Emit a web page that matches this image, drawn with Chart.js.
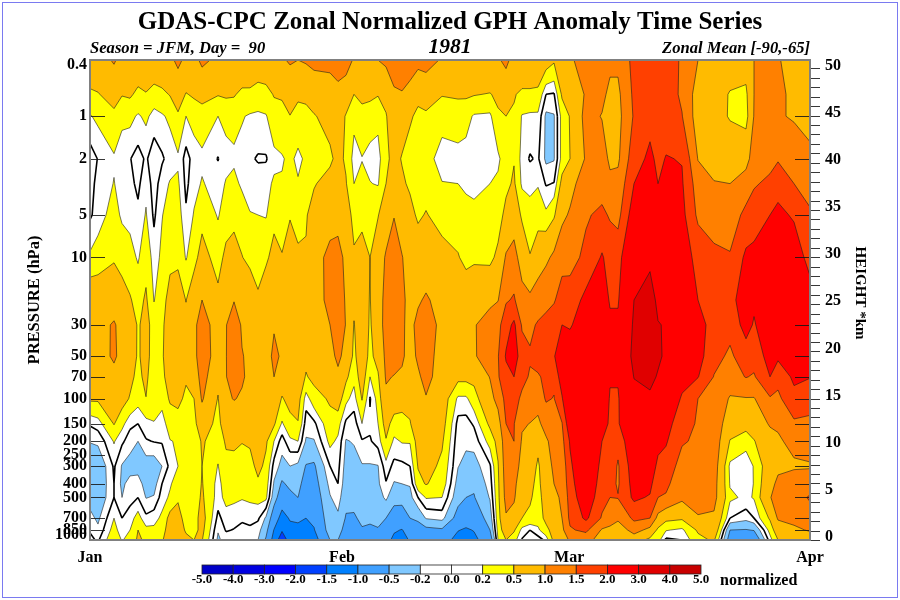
<!DOCTYPE html>
<html><head><meta charset="utf-8"><style>html,body{margin:0;padding:0;background:#fff}canvas{display:block}</style>
<script src="https://cdn.jsdelivr.net/npm/chart.js@4"></script></head><body>
<canvas id="c" width="900" height="600"></canvas>
<script>
const chartTitle='GDAS-CPC Zonal Normalized GPH Anomaly Time Series';
const infoLeft='Season = JFM, Day =  90', infoCenter='1981', infoRight='Zonal Mean [-90,-65]';
const levels=[1000,850,700,500,400,300,200,150,100,70,50,30,20,10,5,3,2,1,0.7,0.4];
const pressureLabels=[0.4,1,2,5,10,30,50,70,100,150,200,250,300,400,500,700,850,1000];
const innerTicks=[1,2,5,10,30,50,70,100,150,200,250,300,400,500,700,850,1000];
const heightLabels=[0,5,10,15,20,25,30,35,40,45,50];
const monthLabels=['Jan','Feb','Mar','Apr'], monthPos=[0,31.5,59.9,90];
const thresholds=[-5,-4,-3,-2,-1.5,-1,-0.5,-0.2,0,0.2,0.5,1,1.5,2,3,4,5];
const thresholdLabels=['-5.0','-4.0','-3.0','-2.0','-1.5','-1.0','-0.5','-0.2','0.0','0.2','0.5','1.0','1.5','2.0','3.0','4.0','5.0'];
const bandColors=['rgb(0,0,200)','rgb(0,0,225)','rgb(0,0,255)','rgb(0,64,255)','rgb(0,128,255)','rgb(64,160,255)','rgb(128,200,255)','#fff','#fff','rgb(255,255,0)','rgb(255,187,0)','rgb(255,128,0)','rgb(255,64,0)','rgb(255,0,0)','rgb(224,0,0)','rgb(200,0,0)'];
// day index of every column below; each column runs from 1000 hPa up to 0.4 hPa
const days=[0,1,3,4,5,6,7,8,9,10,11,12,13,14,16,17,18,19,20,21,22,23,24,25,26,27,28,30,31,32,33,34,35,36,37,38,39,40,41,42,44,46,47,48,50,51,52,53,54,55,56,57,58,59,60,62,64,65,66,68,70,71,72,74,76,78,80,82,83,85,86,88,90];
const d0=[.05,-.02,-.13,-.3,-.35,-.35,-.19,.03,.55,.75,.8,.85,.8,.24,-.03,-.06,-.1,.18,.43,.85];
const d1=[-.03,-.15,-.25,-.4,-.42,-.42,-.15,.1,.55,.8,.85,.9,.75,.33,.08,.05,.01,.26,.48,.8];
const d3=[.4,.3,.2,0,0,.03,.22,.52,.75,.9,1.05,1.03,.85,.45,.32,.21,.17,.42,.65,1.05];
const d4=[.18,.07,0,-.2,-.25,-.22,.04,.28,.65,.85,.9,.9,.62,.4,.15,.1,.08,.26,.52,.85];
const d5=[.3,.2,.1,-.07,-.12,-.3,-.1,.05,.47,.6,.75,.8,.53,.3,.12,.06,.01,.27,.55,.85];
const d6=[.55,.5,.3,0,-.1,-.3,-.2,0,.3,.4,.45,.45,.38,.17,.05,-.05,-.08,.17,.42,.78];
const d7=[.45,.27,.05,-.21,-.3,-.33,-.02,.12,.49,.6,.65,.65,.55,.38,.22,.14,.03,.25,.48,.8];
const d8=[.35,.25,.12,-.18,-.3,-.35,.01,.19,.3,.2,.3,.32,.19,.1,-.04,-.1,-.12,.12,.35,.85];
const d9=[.45,.35,.25,.1,0,-.2,.02,.12,.27,.4,.45,.42,.35,.25,.19,.1,-.03,.17,.42,.85];
const d10=[.8,.7,.62,.24,.17,.06,.19,.3,.55,.7,.75,.75,.65,.4,.3,.22,.08,.25,.52,.9];
const d11=[.8,.72,.65,.45,.33,.2,.22,.35,.6,.75,.8,.8,.7,.42,.32,.24,.16,.45,.7,1.1];
const d12=[.6,.45,.35,.3,.26,.2,.2,.35,.42,.55,.65,.6,.49,.18,.03,-.05,-.08,.2,.48,.9];
const d13=[.5,.4,.35,.33,.3,.25,.22,.42,.5,.7,.85,.9,.75,.38,.22,.12,.08,.3,.55,.85];
const d14=[.52,.6,.65,.55,.52,.5,.55,.7,1.05,1.2,1.3,1.2,1.0,.65,.38,.22,.15,.35,.62,1.1];
const d16=[-.25,-.18,-.06,.1,.12,.19,.3,.4,.48,.6,.75,.8,.6,.35,.18,.1,-.01,.2,.52,.9];
const d17=[-.1,.02,.1,.28,.33,.4,.55,.72,.92,.98,.98,.98,.8,.6,.32,.22,.12,.27,.55,.95];
const d18=[-.05,-.01,.08,.25,.33,.42,.55,.72,1.02,1.25,1.35,1.25,.98,.62,.42,.28,.15,.3,.53,.92];
const d19=[-.1,-.05,.03,.22,.3,.4,.51,.7,.95,1.05,1.02,.95,.8,.51,.36,.15,.12,.22,.42,.85];
const d20=[-.15,-.03,.05,.25,.3,.38,.55,.7,.85,.9,.92,.85,.72,.42,.21,.12,.03,.17,.43,.8];
const d21=[-.2,-.12,.04,.28,.44,.6,.7,.8,.9,.95,.95,.85,.55,.35,.2,.1,-.02,.15,.38,.72];
const d22=[-.55,-.38,-.24,.26,.34,.42,.55,.75,.92,.95,.9,.85,.7,.45,.18,.12,-.02,.18,.4,.75];
const d23=[-1.2,-1.02,-.7,-.37,-.23,-.08,.2,.55,.8,1.0,1.05,.98,.8,.6,.42,.24,.13,.38,.52,.85];
const d24=[-1.8,-1.45,-1.2,-.7,-.55,-.28,-.1,.17,.47,.72,.97,.75,.7,.52,.35,.22,.18,.37,.55,.95];
const d25=[-1.3,-1.15,-.95,-.6,-.42,-.2,.15,.4,.62,.75,.82,.8,.75,.65,.48,.3,.25,.49,.7,1.05];
const d26=[-1.35,-1.15,-.9,-.5,-.4,-.26,.2,.48,.65,.75,.8,.82,.75,.55,.4,.22,.15,.35,.58,1.0];
const d27=[-1.4,-1.2,-1.0,-.75,-.65,-.52,-.23,-.1,.09,.47,.6,.75,.65,.52,.48,.32,.24,.38,.6,1.05];
const d28=[-1.2,-1.03,-.9,-.72,-.65,-.55,-.22,-.05,.35,.6,.7,.8,.75,.85,.6,.48,.38,.48,.65,1.15];
const d30=[-.5,-.32,-.27,-.22,-.13,0,.27,.38,.55,.7,.85,1.0,1.15,1.1,.85,.6,.45,.6,.75,1.15];
const d31=[-.5,-.35,-.25,-.1,0,.06,.15,.3,.7,.9,1.1,1.25,1.25,1.15,.85,.7,.58,.7,.85,1.25];
const d32=[-.8,-.65,-.53,-.4,-.35,-.3,-.22,-.05,.27,.58,.85,.98,.95,.9,.7,.52,.46,.47,.75,1.2];
const d33=[-.7,-.63,-.53,-.42,-.36,-.3,-.18,-.1,.1,.28,.42,.48,.6,.55,.38,.2,.1,.28,.5,.95];
const d34=[-.55,-.52,-.45,-.38,-.32,-.22,-.02,.2,.52,.7,.75,.8,.7,.62,.42,.28,.19,.4,.58,.9];
const d35=[-.6,-.55,-.45,-.35,-.3,-.22,-.02,.04,-.02,.2,.4,.45,.48,.5,.38,.21,.12,.33,.58,.9];
const d36=[-.6,-.52,-.43,-.32,-.24,-.21,.08,.2,.3,.45,.65,.8,.85,.75,.48,.18,.1,.28,.52,1.0];
const d37=[-.85,-.65,-.5,-.15,-.02,.12,.47,.65,.9,1.05,1.1,1.15,1.1,1.05,.75,.5,.43,.48,.6,1.1];
const d38=[-1.1,-.95,-.65,-.4,-.22,-.06,.15,.35,.75,.98,1.2,1.3,1.35,1.25,.98,.72,.6,.7,.9,1.35];
const d39=[-1.2,-1.02,-.7,-.38,-.2,-.05,.22,.4,.62,.95,1.05,1.05,1.1,1.02,.75,.55,.48,.65,.95,1.45];
const d40=[-.95,-.8,-.5,-.28,-.18,0,.22,.48,.6,.75,.88,.9,.85,.8,.6,.45,.35,.55,.8,1.3];
const d41=[-.85,-.7,-.42,0,.4,.52,.65,.72,.8,.95,1.05,1.1,.95,.7,.45,.35,.25,.42,.6,1.15];
const d42=[-.9,-.6,-.18,.22,.52,.65,.72,.78,.98,1.1,1.15,1.15,1.05,.75,.52,.38,.3,.45,.65,1.2];
const d44=[-.8,-.55,-.12,.2,.36,.42,.55,.65,.72,.85,.85,.92,.85,.62,.38,.21,.1,.3,.52,.95];
const d46=[-1.15,-.98,-.65,-.38,-.3,-.19,-.13,-.07,.15,.6,.72,.75,.65,.52,.35,.2,.13,.32,.55,.95];
const d47=[-1.25,-1.05,-.8,-.5,-.42,-.28,-.15,-.08,.15,.6,.75,.78,.7,.42,.3,.15,.1,.3,.55,1.0];
const d48=[-1.1,-.98,-.75,-.52,-.45,-.3,-.12,.03,.36,.6,.95,.95,.75,.45,.25,.15,.1,.17,.52,1.0];
const d50=[-.75,-.5,-.35,-.18,-.1,-.03,.3,.58,.85,1.02,1.25,1.3,.85,.42,.3,.2,.05,.15,.48,.95];
const d51=[.2,.28,.35,.4,.42,.47,.62,.8,1.15,1.45,1.47,1.35,.98,.58,.35,.25,.15,.45,.58,.95];
const d52=[.5,.75,.95,1.15,1.2,1.25,1.3,1.5,1.65,1.85,2.05,1.8,1.45,1.05,.6,.42,.35,.5,.7,1.1];
const d53=[.3,.55,.85,1.05,1.1,1.15,1.5,1.52,1.7,2.0,2.3,2.1,1.55,1.2,.72,.55,.48,.47,.52,.85];
const d54=[-.02,.12,.5,.65,.75,.9,.95,1.05,1.4,1.65,1.7,1.45,1.2,.75,.45,.15,.1,.18,.45,.75];
const d55=[-.2,0,.42,.55,.6,.7,.85,.99,1.3,1.45,1.55,1.4,1.1,.52,.3,.13,-.02,.15,.45,.75];
const d56=[-.1,.15,.32,.35,.4,.45,.6,.9,1.2,1.45,1.7,1.55,1.25,.75,.35,.18,.03,.15,.42,.8];
const d57=[.05,.4,.6,.7,.75,.75,.92,1.2,1.55,1.6,1.75,1.6,1.4,.9,.25,-.02,-.25,-.25,0,.7];
const d58=[.6,.65,.75,.92,1.0,1.1,1.2,1.3,1.48,1.6,1.95,1.8,1.45,1.1,.45,.01,-.22,-.22,-.02,.55];
const d59=[.8,.88,1.0,1.05,1.1,1.15,1.35,1.48,1.95,2.3,2.5,2.0,1.75,1.3,.9,.62,.3,.3,.55,.9];
const d60=[1.05,1.45,1.6,1.7,1.8,1.9,2.05,2.4,2.75,2.6,2.3,1.95,1.7,1.35,1.05,.85,.5,.52,.65,.95];
const d62=[1.2,1.6,2.1,2.4,2.5,2.6,2.7,2.7,2.6,2.5,2.5,2.3,2.15,1.6,1.45,1.25,1.05,1.15,1.05,1.15];
const d64=[.75,.95,1.45,1.65,1.75,1.85,2.0,2.15,2.5,2.7,2.8,2.6,2.3,2.05,1.6,1.3,1.2,.98,1.1,1.3];
const d65=[.65,.9,1.2,1.5,1.65,1.8,1.9,1.95,1.95,2.05,2.2,2.1,1.95,1.8,1.45,1.1,.92,.85,.9,1.1];
const d66=[.55,.7,1.1,1.52,1.45,1.45,1.65,1.95,1.95,2.05,2.2,2.1,1.95,1.8,1.35,1.15,.92,.85,.9,1.1];
const d68=[.7,1.2,1.6,2.1,2.2,2.3,2.5,2.6,2.8,3.02,3.2,3.1,3.0,2.7,2.3,2.0,1.8,1.55,1.6,1.65];
const d70=[.4,.85,1.5,1.95,2.15,2.4,2.6,2.75,2.9,3.15,3.4,3.3,3.2,2.9,2.4,2.2,2.1,1.85,1.85,1.85];
const d71=[.3,.42,.85,1.5,1.6,1.85,2.2,2.5,2.75,2.95,3.1,3.02,2.9,2.6,2.2,2.0,1.9,1.8,1.8,1.8];
const d72=[-.05,.22,.6,1.45,1.6,1.8,2.05,2.2,2.4,2.6,2.9,2.97,2.8,2.5,2.25,2.1,2.02,1.8,1.75,1.7];
const d74=[0,.15,.55,1.1,1.2,1.3,1.55,1.7,1.95,2.15,2.3,2.4,2.35,2.25,2.15,2.05,1.98,1.52,1.42,1.45];
const d76=[.4,.55,.95,1.25,1.3,1.4,1.42,1.45,1.5,2.02,2.2,2.15,2.0,1.85,1.4,1.25,.98,.75,.78,1.0];
const d78=[.55,.82,.92,1.15,1.18,1.25,1.3,1.35,1.42,1.48,1.65,1.85,1.9,1.6,1.3,1.02,.85,.65,.7,.85];
const d80=[-.7,-.5,0,.25,.18,.14,.48,.7,.95,1.3,1.42,1.65,1.8,1.55,1.2,1.0,.75,.47,.47,.75];
const d82=[-.8,-.52,-.12,.15,.1,.05,.3,.65,.97,1.52,1.75,2.2,2.35,2.1,1.65,1.2,.85,.35,.42,.7];
const d83=[-.85,-.48,0,.22,.21,.22,.48,.7,.97,1.45,1.7,1.95,2.1,2.15,1.75,1.45,1.2,1.02,1.0,1.0];
const d85=[.1,.3,.55,.98,.85,.75,.8,1.05,1.45,2.0,2.2,2.4,2.4,2.2,2.0,1.6,1.35,1.02,1.05,1.2];
const d86=[.5,.75,1.05,1.15,1.1,.9,.95,1.05,1.4,1.65,2.1,2.4,2.4,2.3,2.1,1.85,1.45,1.05,1.1,1.02];
const d88=[.6,.9,1.15,1.3,1.2,.95,1.1,1.42,1.85,2.1,2.3,2.5,2.5,2.25,1.95,1.5,1.3,.95,.9,.9];
const d90=[.7,1.05,1.3,1.55,1.3,.95,1.25,1.4,1.7,2.02,2.2,2.3,2.2,1.85,1.55,1.35,1.1,.85,.8,.8];
const columns=[d0,d1,d3,d4,d5,d6,d7,d8,d9,d10,d11,d12,d13,d14,d16,d17,d18,d19,d20,d21,d22,d23,d24,d25,d26,d27,d28,d30,d31,d32,d33,d34,d35,d36,d37,d38,d39,d40,d41,d42,d44,d46,d47,d48,d50,d51,d52,d53,d54,d55,d56,d57,d58,d59,d60,d62,d64,d65,d66,d68,d70,d71,d72,d74,d76,d78,d80,d82,d83,d85,d86,d88,d90];

const SERIF='"Liberation Serif","Times New Roman",serif';

function clipCell(q,t,emit,seg){ // q: [{x,y,v}...]; keeps part with v>=t
  const out=[],cross=[];
  for(let i=0;i<4;i++){
    const a=q[i],b=q[(i+1)%4],ia=a.v>=t,ib=b.v>=t;
    if(ia) out.push(a);
    if(ia!==ib){const f=(t-a.v)/(b.v-a.v),p={x:a.x+f*(b.x-a.x),y:a.y+f*(b.y-a.y)};out.push(p);cross.push(p);}
  }
  if(emit&&out.length>2){emit.moveTo(out[0].x,out[0].y);for(let i=1;i<out.length;i++)emit.lineTo(out[i].x,out[i].y);emit.closePath();}
  if(seg&&cross.length>=2){for(let i=0;i+1<cross.length;i+=2){seg.moveTo(cross[i].x,cross[i].y);seg.lineTo(cross[i+1].x,cross[i+1].y);}}
}
const contourPlugin={id:'contour',
  beforeDatasetsDraw(ch){
    const c=ch.ctx,a=ch.chartArea,X=ch.scales.x,Y=ch.scales.y;
    const xs=days.map(d=>X.getPixelForValue(d)),ys=levels.map(l=>Y.getPixelForValue(l));
    const cell=(i,j)=>[[i,j],[i+1,j],[i+1,j+1],[i,j+1]].map(([m,n])=>({x:xs[m],y:ys[n],v:columns[m][n]}));
    c.save();c.beginPath();c.rect(a.left,a.top,a.width,a.height);c.clip();
    c.fillStyle=bandColors[0];c.fillRect(a.left,a.top,a.width,a.height);
    for(let k=1;k<bandColors.length;k++){
      c.beginPath();
      for(let i=0;i<xs.length-1;i++)for(let j=0;j<ys.length-1;j++)clipCell(cell(i,j),thresholds[k],c,null);
      c.fillStyle=bandColors[k];c.fill();
    }
    for(let k=1;k<thresholds.length-1;k++){
      const t=thresholds[k];
      c.beginPath();
      for(let i=0;i<xs.length-1;i++)for(let j=0;j<ys.length-1;j++)clipCell(cell(i,j),t,null,c);
      c.strokeStyle=t===0?'#000':'rgba(30,30,30,.75)';c.lineWidth=t===0?1.6:.8;c.stroke();
    }
    c.restore();
  },
  afterDraw(ch){
    const c=ch.ctx,a=ch.chartArea,Y=ch.scales.y,R=ch.scales.y2;
    c.save();
    // pressure-level marks inside the frame, both sides
    c.strokeStyle='rgba(20,20,20,.85)';c.lineWidth=1;c.beginPath();
    innerTicks.forEach(p=>{const y=Math.round(Y.getPixelForValue(p))+.5;c.moveTo(a.left,y);c.lineTo(a.left+15,y);c.moveTo(a.right-15,y);c.lineTo(a.right,y);});
    for(let h=0;h<=50;h++){const y=Math.round(R.getPixelForValue(h))+.5;c.moveTo(a.right,y);c.lineTo(a.right+10,y);}
    c.stroke();
    c.strokeStyle='#808080';c.lineWidth=2;c.strokeRect(a.left,a.top,a.width,a.height);
    c.strokeStyle='#7a7af0';c.lineWidth=1;c.strokeRect(2.5,2.5,895,595);
    c.fillStyle='#000';c.textBaseline='middle';
    c.textAlign='center';c.font='bold 25px '+SERIF;c.fillText(chartTitle,450,23);
    c.font='italic bold 21.5px '+SERIF;c.fillText(infoCenter,450,47);
    c.font='italic bold 16.6px '+SERIF;
    c.textAlign='left';c.fillText(infoLeft,90,49);
    c.textAlign='right';c.fillText(infoRight,810,49);
    // colour key
    const x0=202,w=(701-202)/bandColors.length,y0=565,h=9;
    bandColors.forEach((col,i)=>{c.fillStyle=col;c.fillRect(x0+i*w,y0,w,h);c.strokeStyle='#222';c.lineWidth=.8;c.strokeRect(x0+i*w,y0,w,h);});
    c.fillStyle='#000';c.textAlign='center';c.font='bold 13px '+SERIF;
    thresholdLabels.forEach((s,i)=>c.fillText(s,x0+i*w,580));
    c.textAlign='left';c.font='bold 16px '+SERIF;c.fillText('normalized',720,581);
    // right axis name
    c.save();c.translate(860,293);c.rotate(Math.PI/2);c.textAlign='center';c.font='bold 15px '+SERIF;c.fillText('HEIGHT *km',0,0);c.restore();
    c.restore();
  }
};
const points=[];
days.forEach((d,i)=>levels.forEach((l,j)=>points.push({x:d,y:l,v:columns[i][j]})));
new Chart(document.getElementById('c'),{
  type:'scatter',
  data:{datasets:[{label:'Normalized GPH anomaly',data:points,pointRadius:0,showLine:false,yAxisID:'y'}]},
  plugins:[contourPlugin],
  options:{
    responsive:false,animation:false,
    layout:{padding:{top:60,left:0,right:0,bottom:0}},
    plugins:{legend:{display:false},tooltip:{enabled:false}},
    scales:{
      x:{type:'linear',min:0,max:90,grid:{display:false,drawTicks:false},border:{display:false},
        afterBuildTicks(s){s.ticks=monthPos.map(v=>({value:v}));},
        afterFit(s){s.height=60;},
        ticks:{autoSkip:false,maxRotation:0,padding:8,color:'#000',font:{family:SERIF,weight:'bold',size:16},callback:(v,i)=>monthLabels[i]}},
      y:{type:'logarithmic',position:'left',reverse:true,min:.4,max:1000,grid:{display:false,drawTicks:false},border:{display:false},
        afterBuildTicks(s){s.ticks=pressureLabels.map(p=>({value:p===.4?.43:p===1000?925:p}));},
        afterFit(s){s.width=90;},
        title:{display:true,text:'PRESSURE (hPa)',color:'#000',font:{family:SERIF,weight:'bold',size:16.5},padding:{top:25,bottom:0}},
        ticks:{autoSkip:false,padding:3,color:'#000',font:{family:SERIF,weight:'bold',size:16},callback:(v,i)=>String(pressureLabels[i])}},
      y2:{type:'linear',position:'right',min:0,max:50.9,grid:{display:false,drawTicks:false},border:{display:false},
        afterBuildTicks(s){s.ticks=heightLabels.map(v=>({value:v}));},
        afterFit(s){s.width=90;},
        ticks:{autoSkip:false,padding:15,labelOffset:-3,color:'#000',font:{family:SERIF,weight:'bold',size:16},callback:v=>String(v)}}
    }
  }
});
</script></body></html>
